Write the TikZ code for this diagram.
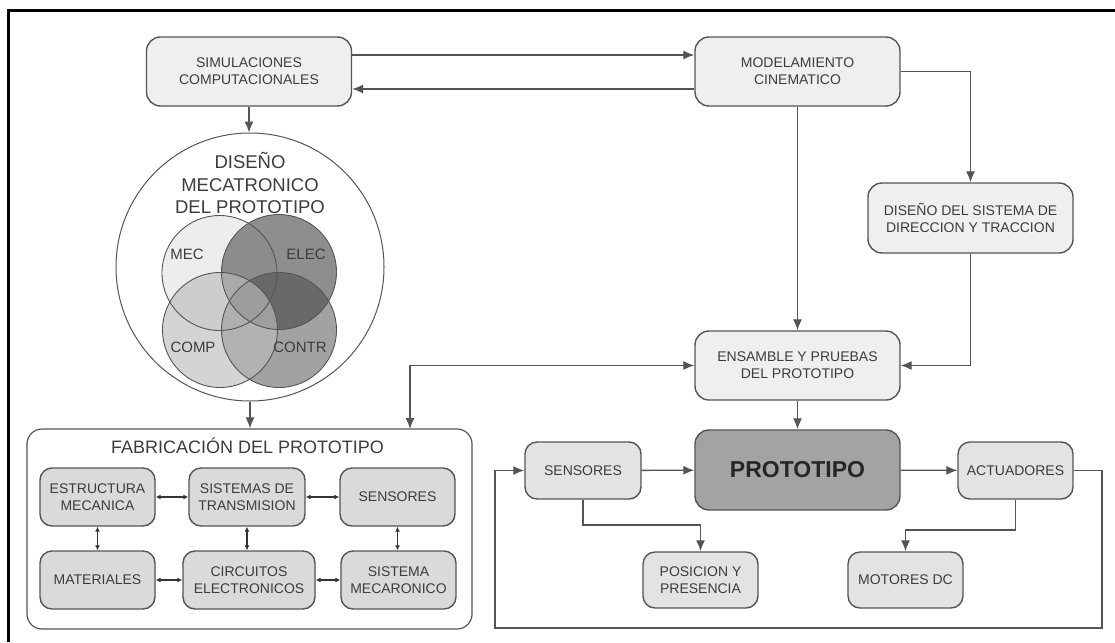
\documentclass[tikz,border=0pt]{standalone}
\usepackage{fontspec}
\setmainfont{Liberation Sans}
\usetikzlibrary{arrows.meta}

\definecolor{edge}{HTML}{555555}
\definecolor{ink}{HTML}{3C3C3C}
\definecolor{boxlight}{HTML}{EFEFEF}
\definecolor{boxmid}{HTML}{E3E3E3}
\definecolor{boxfab}{HTML}{DADADA}
\definecolor{boxcore}{HTML}{A3A3A3}

\tikzset{
  basebox/.style={draw=edge, line width=1.4pt, align=center, text=ink,
    inner sep=0pt, font=\fontsize{14}{17}\selectfont},
  mainbox/.style={basebox, rounded corners=14pt, fill=boxlight,
    minimum width=205pt, minimum height=69pt},
  sidebox/.style={basebox, rounded corners=12pt, fill=boxmid,
    minimum width=115pt, minimum height=57pt},
  fabbox/.style={basebox, rounded corners=12pt, fill=boxfab,
    minimum width=115pt, minimum height=58pt},
  corebox/.style={basebox, rounded corners=14pt, fill=boxcore,
    minimum width=205pt, minimum height=80pt, text=black!85,
    font=\fontsize{23}{27}\selectfont\bfseries},
  frame/.style={draw=edge, line width=1.2pt, rounded corners=15pt, fill=white},
  conn/.style={draw=edge, line width=1.3pt, -{Latex[length=11pt,width=9pt]}},
  twoway/.style={draw=edge, line width=1.3pt,
    {Latex[length=11pt,width=9pt]}-{Latex[length=11pt,width=9pt]}},
  tiny/.style={draw=black!80, line width=1.1pt,
    {Latex[length=5pt,width=5pt]}-{Latex[length=5pt,width=5pt]}},
  vennline/.style={draw=edge, line width=0.9pt},
  vennlabel/.style={text=ink, font=\fontsize{15}{18}\selectfont},
}

\begin{document}
\begin{tikzpicture}[x=1pt,y=-1pt]
\useasboundingbox (0,0) rectangle (1115,642);
\fill[white] (0,0) rectangle (1115,642);

% page frame (top and left edges)
\draw[line width=3pt, line join=miter] (8.5,642) -- (8.5,10.5) -- (1115,10.5);

% upper row
\node[mainbox] (sim) at (249,71.5) {SIMULACIONES\\COMPUTACIONALES};
\node[mainbox] (model) at (797.5,71.5) {MODELAMIENTO\\CINEMATICO};
\node[mainbox, minimum height=70pt] (dis) at (970.5,218) {DISEÑO DEL SISTEMA DE\\DIRECCION Y TRACCION};
\node[mainbox] (ens) at (797.5,365.5) {ENSAMBLE Y PRUEBAS\\DEL PROTOTIPO};

% mechatronic design circle with its four overlapping disciplines
\node[circle, draw=edge, line width=1pt, fill=white, minimum size=268pt, inner sep=0pt] (dm) at (250,267) {};
\node[text=ink, align=center, font=\fontsize{18.5}{22.5}\selectfont] (dmt) at (250,183)
  {DISEÑO\\MECATRONICO\\DEL PROTOTIPO};
\fill[fill=black!7] (219.5,273) circle (57.5);
\fill[fill={rgb,255:red,130;green,130;blue,130}, fill opacity=0.9] (279,272) circle (57.5);
\fill[fill={rgb,255:red,67;green,67;blue,67}, fill opacity=0.49] (279,330) circle (57.5);
\fill[fill={rgb,255:red,188;green,188;blue,188}, fill opacity=0.64] (220,330) circle (57.5);
\draw[vennline] (219.5,273) circle (57.5);
\draw[vennline] (279,272) circle (57.5);
\draw[vennline] (279,330) circle (57.5);
\draw[vennline] (220,330) circle (57.5);
\node[vennlabel] (mec) at (187,254) {MEC};
\node[vennlabel] (elec) at (306,254) {ELEC};
\node[vennlabel] (comp) at (193,347) {COMP};
\node[vennlabel] (contr) at (300,347) {CONTR};

% fabrication block
\node[frame, minimum width=445pt, minimum height=200pt] (fab) at (249.5,529) {};
\node[text=ink, font=\fontsize{18}{22}\selectfont] (fabt) at (247.5,446) {FABRICACIÓN DEL PROTOTIPO};
\node[fabbox] (est) at (97.5,497) {ESTRUCTURA\\MECANICA};
\node[fabbox, minimum width=116pt] (sis) at (247,497) {SISTEMAS DE\\TRANSMISION};
\node[fabbox] (sen) at (397.5,497) {SENSORES};
\node[fabbox] (mat) at (97.5,580) {MATERIALES};
\node[fabbox, minimum width=132pt] (cir) at (249,580) {CIRCUITOS\\ELECTRONICOS};
\node[fabbox] (smc) at (398.5,580) {SISTEMA\\MECARONICO};

\draw[tiny] (est) -- (sis);
\draw[tiny] (sis) -- (sen);
\draw[tiny] (mat) -- (cir);
\draw[tiny] (cir) -- (smc);
\draw[tiny] (est) -- (mat);
\draw[tiny] (sis.south) -- (sis.south |- cir.north);
\draw[tiny] (sen.south) -- (sen.south |- smc.north);

% prototype and its sensors / actuators
\node[corebox] (proto) at (797.5,470) {PROTOTIPO};
\node[sidebox, minimum width=116pt] (sensR) at (583,470.5) {SENSORES};
\node[sidebox] (act) at (1015.5,470.5) {ACTUADORES};
\node[sidebox, minimum height=56pt] (pos) at (700.5,580) {POSICION Y\\PRESENCIA};
\node[sidebox, minimum height=56pt] (mot) at (905.5,580) {MOTORES DC};

% connectors
\draw[conn] ([yshift=16.5pt]sim.east) -- ([yshift=16.5pt]model.west);
\draw[conn] ([yshift=-17.5pt]model.west) -- ([yshift=-17.5pt]sim.east);
\draw[conn] (sim.south) -- (sim.south |- dm.north);
\draw[conn] (model.east) -| (dis.north);
\draw[conn] (model.south) -- (ens.north);
\draw[conn] (dis.south) |- (ens.east);
\coordinate (fabin) at (410,429);
\draw[twoway] (fabin) |- (ens.west);
\draw[conn] (dm.south) -- (dm.south |- fab.north);
\draw[conn] (ens.south) -- (proto.north);
\draw[conn] (sensR) -- (proto);
\draw[conn] (proto) -- (act);
\coordinate (sbend) at (583,525);
\draw[conn] (sensR.south) -- (sbend) -| (pos.north);
\coordinate (abend) at (1015.5,530);
\draw[conn] (act.south) -- (abend) -| (mot.north);
\coordinate (loopR) at (1102,628);
\coordinate (loopL) at (495,628);
\draw[conn] (act.east) -| (loopR) -- (loopL) |- (sensR.west);
\end{tikzpicture}
\end{document}
